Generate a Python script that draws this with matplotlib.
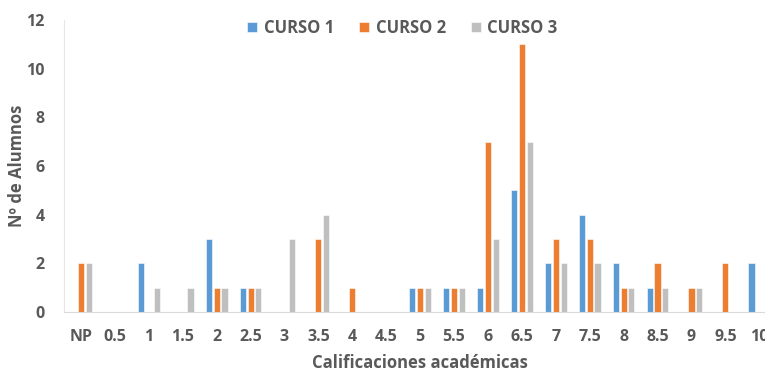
import numpy as np
import matplotlib
matplotlib.use("Agg")
import matplotlib.pyplot as plt

categories = ["NP", "0.5", "1", "1.5", "2", "2.5", "3", "3.5", "4", "4.5", "5",
              "5.5", "6", "6.5", "7", "7.5", "8", "8.5", "9", "9.5", "10"]
curso1 = [0, 0, 2, 0, 3, 1, 0, 0, 0, 0, 1, 1, 1, 5, 2, 4, 2, 1, 0, 0, 2]
curso2 = [2, 0, 0, 0, 1, 1, 0, 3, 1, 0, 1, 1, 7, 11, 3, 3, 1, 2, 1, 2, 0]
curso3 = [2, 0, 1, 1, 1, 1, 3, 4, 0, 0, 1, 1, 3, 7, 2, 2, 1, 1, 1, 0, 0]

series = [("CURSO 1", curso1, "#5B9BD5"),
          ("CURSO 2", curso2, "#ED7D31"),
          ("CURSO 3", curso3, "#BFBFBF")]

text_color = "#595959"
plt.rcParams["font.family"] = ["Open Sans", "DejaVu Sans"]
plt.rcParams["font.weight"] = "bold"

fig = plt.figure(figsize=(7.65, 3.73), dpi=100)
ax = fig.add_axes([0.0837, 0.1635, 0.931, 0.7828])

x = np.arange(len(categories))
step = 0.23
width = 0.18
for i, (name, values, color) in enumerate(series):
    ax.bar(x + (i - 1) * step, values, width=width, color=color,
           edgecolor="white", linewidth=0.4, label=name)

ax.set_xlim(-0.5, len(categories) - 0.5)
ax.set_ylim(0, 12)
ax.set_yticks(range(0, 13, 2))
ax.set_xticks(x)
ax.set_xticklabels(categories)
ax.tick_params(length=0, labelsize=11.5, colors=text_color)
ax.tick_params(axis="x", pad=12)
ax.tick_params(axis="y", pad=14)
for lab in ax.get_xticklabels() + ax.get_yticklabels():
    lab.set_fontweight("bold")

for side in ["top", "right"]:
    ax.spines[side].set_visible(False)
ax.spines["bottom"].set_color("#D9D9D9")
ax.spines["left"].set_color("#E6E6E6")

ax.set_xlabel("Calificaciones académicas", fontsize=12, color=text_color,
              fontweight="bold", labelpad=7)
ax.set_ylabel("Nº de Alumnos", fontsize=12, color=text_color,
              fontweight="bold")
ax.yaxis.set_label_coords(-0.053, 0.5)

legend = fig.legend(loc="center", bbox_to_anchor=(0.526, 0.925), ncol=3,
                    frameon=False, handlelength=0.6, handleheight=0.6,
                    columnspacing=1.5, handletextpad=0.4,
                    prop={"size": 12, "weight": "bold"})
for t in legend.get_texts():
    t.set_color(text_color)

fig.savefig("out.png", dpi=100)
